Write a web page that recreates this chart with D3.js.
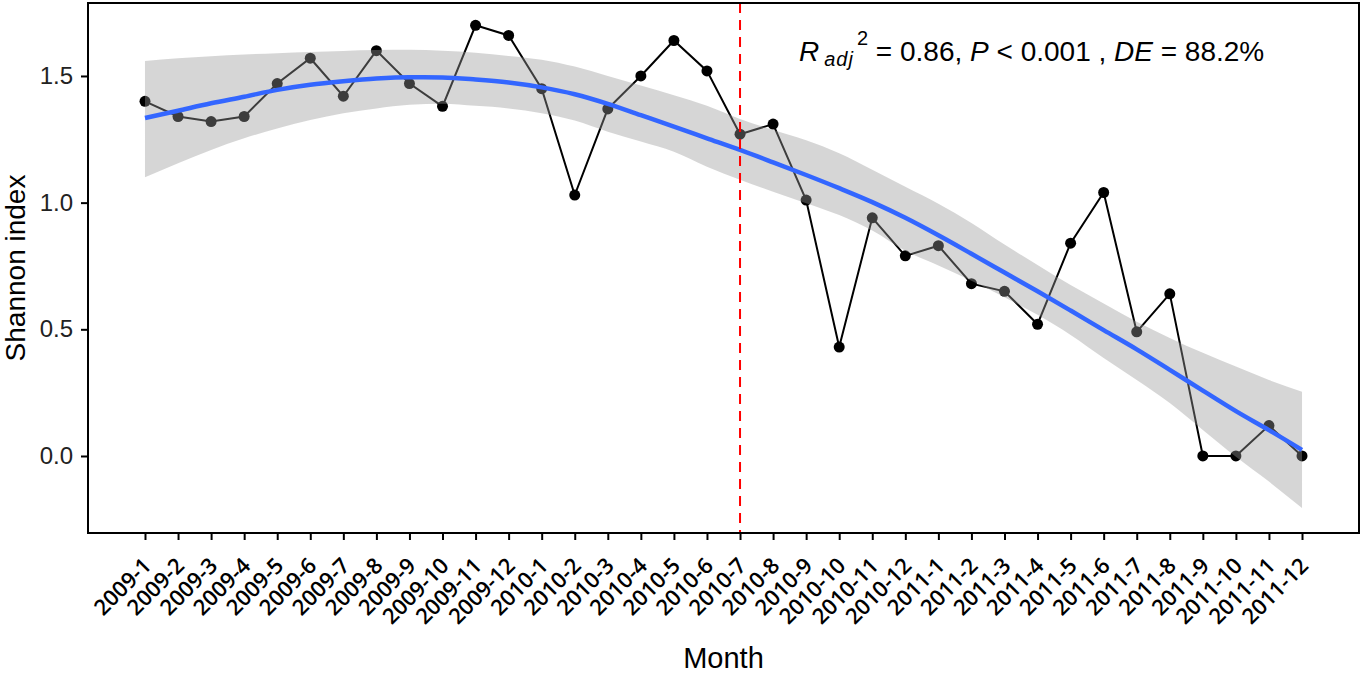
<!DOCTYPE html>
<html>
<head>
<meta charset="utf-8">
<script src="https://cdn.jsdelivr.net/npm/d3@7"></script>
<style>
  body { margin: 0; background: #fff; }
  text { font-family: "Liberation Sans", Arial, sans-serif; }
</style>
</head>
<body>
<script>
(function() {
    'use strict';

    // data
    var months = [
        '2009-1', '2009-2', '2009-3', '2009-4', '2009-5', '2009-6', '2009-7', '2009-8', '2009-9', '2009-10', '2009-11', '2009-12',
        '2010-1', '2010-2', '2010-3', '2010-4', '2010-5', '2010-6', '2010-7', '2010-8', '2010-9', '2010-10', '2010-11', '2010-12',
        '2011-1', '2011-2', '2011-3', '2011-4', '2011-5', '2011-6', '2011-7', '2011-8', '2011-9', '2011-10', '2011-11', '2011-12'
    ];
    var shannon = [
        1.40, 1.34, 1.32, 1.34, 1.47, 1.57, 1.42, 1.60, 1.47, 1.38, 1.70, 1.66,
        1.45, 1.03, 1.37, 1.50, 1.64, 1.52, 1.27, 1.31, 1.01, 0.43, 0.94, 0.79,
        0.83, 0.68, 0.65, 0.52, 0.84, 1.04, 0.49, 0.64, 0.00, 0.00, 0.12, 0.00
    ];
    // fitted smooth and its 95% band, read at each month
    var fitMid = [
        1.334, 1.363, 1.392, 1.418, 1.445, 1.465, 1.479, 1.490, 1.495, 1.494, 1.486, 1.474,
        1.455, 1.428, 1.390, 1.345, 1.300, 1.254, 1.208, 1.159, 1.109, 1.057, 1.002, 0.940,
        0.871, 0.798, 0.724, 0.650, 0.574, 0.497, 0.421, 0.340, 0.258, 0.177, 0.102, 0.024
    ];
    var fitHi = [
        1.559, 1.570, 1.578, 1.585, 1.590, 1.595, 1.599, 1.602, 1.603, 1.600, 1.592, 1.579,
        1.564, 1.537, 1.500, 1.462, 1.424, 1.382, 1.330, 1.287, 1.246, 1.195, 1.130, 1.063,
        0.996, 0.920, 0.835, 0.754, 0.675, 0.602, 0.530, 0.466, 0.407, 0.353, 0.300, 0.254
    ];
    var fitLo = [
        1.100, 1.155, 1.208, 1.254, 1.293, 1.326, 1.353, 1.372, 1.386, 1.390, 1.382, 1.372,
        1.353, 1.324, 1.280, 1.241, 1.201, 1.142, 1.090, 1.043, 0.998, 0.951, 0.890, 0.810,
        0.752, 0.692, 0.627, 0.557, 0.478, 0.387, 0.300, 0.209, 0.103, -0.003, -0.101, -0.205
    ];
    var yTicks = [0, 0.5, 1.0, 1.5];
    var breakMonth = '2010-7';

    var width = 1363, height = 674;
    var margin = { top: 3, right: 4, bottom: 141, left: 88 };

    var svg = d3.select('body').append('svg')
        .attr('width', width)
        .attr('height', height);

    var n = months.length;
    var x = d3.scaleLinear()
        .domain([1 - 1.724, n + 1.724])
        .range([margin.left, width - margin.right]);
    var y = d3.scaleLinear()
        .domain([-0.304, 1.788])
        .range([height - margin.bottom, margin.top]);

    var pts = shannon.map(function(v, i) { return { x: i + 1, y: v }; });
    var smooth = fitMid.map(function(v, i) {
        return { x: i + 1, y: v, lo: fitLo[i], hi: fitHi[i] };
    });

    var plot = svg.append('g');

    // observed series
    plot.append('path')
        .datum(pts)
        .attr('fill', 'none')
        .attr('stroke', '#000')
        .attr('stroke-width', 2)
        .attr('d', d3.line().x(function(d) { return x(d.x); }).y(function(d) { return y(d.y); }));

    plot.selectAll('circle.obs')
        .data(pts)
        .enter().append('circle')
        .attr('class', 'obs')
        .attr('cx', function(d) { return x(d.x); })
        .attr('cy', function(d) { return y(d.y); })
        .attr('r', 5.5)
        .attr('fill', '#000');

    // confidence band
    plot.append('path')
        .datum(smooth)
        .attr('fill', '#999999')
        .attr('fill-opacity', 0.4)
        .attr('d', d3.area().curve(d3.curveMonotoneX)
            .x(function(d) { return x(d.x); })
            .y0(function(d) { return y(d.lo); })
            .y1(function(d) { return y(d.hi); }));

    plot.append('path')
        .datum(smooth)
        .attr('fill', 'none')
        .attr('stroke', '#3366FF')
        .attr('stroke-width', 4.5)
        .attr('d', d3.line().curve(d3.curveMonotoneX)
            .x(function(d) { return x(d.x); })
            .y(function(d) { return y(d.y); }));

    // vertical break line
    var bx = x(months.indexOf(breakMonth) + 1);
    plot.append('line')
        .attr('x1', bx).attr('x2', bx)
        .attr('y1', margin.top).attr('y2', height - margin.bottom)
        .attr('stroke', '#ff0000')
        .attr('stroke-width', 2)
        .attr('stroke-dasharray', '10,7');

    // panel border
    svg.append('rect')
        .attr('x', margin.left)
        .attr('y', margin.top)
        .attr('width', width - margin.right - margin.left)
        .attr('height', height - margin.bottom - margin.top)
        .attr('fill', 'none')
        .attr('stroke', '#000')
        .attr('stroke-width', 2);

    // y axis
    var yAxis = svg.append('g')
        .attr('transform', 'translate(' + margin.left + ',0)')
        .call(d3.axisLeft(y).tickValues(yTicks).tickSize(7).tickPadding(8)
            .tickFormat(d3.format('.1f')));
    yAxis.select('.domain').remove();
    yAxis.selectAll('line').attr('stroke', '#000').attr('stroke-width', 2);
    yAxis.selectAll('text')
        .attr('fill', '#222')
        .style('font-family', '"Liberation Sans", Arial, sans-serif')
        .style('font-size', '24px');

    // x axis
    var xAxis = svg.append('g')
        .attr('transform', 'translate(0,' + (height - margin.bottom) + ')')
        .call(d3.axisBottom(x).tickValues(d3.range(1, n + 1)).tickSize(7)
            .tickFormat(function(d) { return months[d - 1]; }));
    xAxis.select('.domain').remove();
    xAxis.selectAll('line').attr('stroke', '#000').attr('stroke-width', 2);
    xAxis.selectAll('text')
        .attr('fill', '#000')
        .attr('text-anchor', 'end')
        .attr('y', 0)
        .attr('dy', '0.72em')
        .attr('transform', 'translate(-4,23) rotate(-45)')
        .style('font-family', '"Open Sans", sans-serif')
        .style('font-weight', 600)
        .style('font-size', '22px');

    // axis titles
    svg.append('text')
        .attr('x', (margin.left + width - margin.right) / 2)
        .attr('y', 668)
        .attr('text-anchor', 'middle')
        .style('font-size', '29px')
        .text('Month');

    svg.append('text')
        .attr('transform', 'translate(25,' + ((margin.top + height - margin.bottom) / 2) + ') rotate(-90)')
        .attr('text-anchor', 'middle')
        .style('font-size', '28px')
        .text('Shannon index');

    // fit annotation
    var ann = svg.append('text')
        .attr('x', 799)
        .attr('y', 61)
        .style('font-size', '28px');
    ann.append('tspan').style('font-style', 'italic').text('R');
    ann.append('tspan').style('font-style', 'italic').style('font-size', '20px')
        .style('letter-spacing', '1px')
        .attr('dx', 5).attr('dy', 5).text('adj');
    ann.append('tspan').style('font-size', '20px')
        .attr('dx', 3).attr('dy', -21).text('2');
    ann.append('tspan').attr('dy', 16).text(' = 0.86, ');
    ann.append('tspan').style('font-style', 'italic').text('P');
    ann.append('tspan').text(' < 0.001 , ');
    ann.append('tspan').style('font-style', 'italic').text('DE');
    ann.append('tspan').text(' = 88.2%');

}());
</script>
</body>
</html>
